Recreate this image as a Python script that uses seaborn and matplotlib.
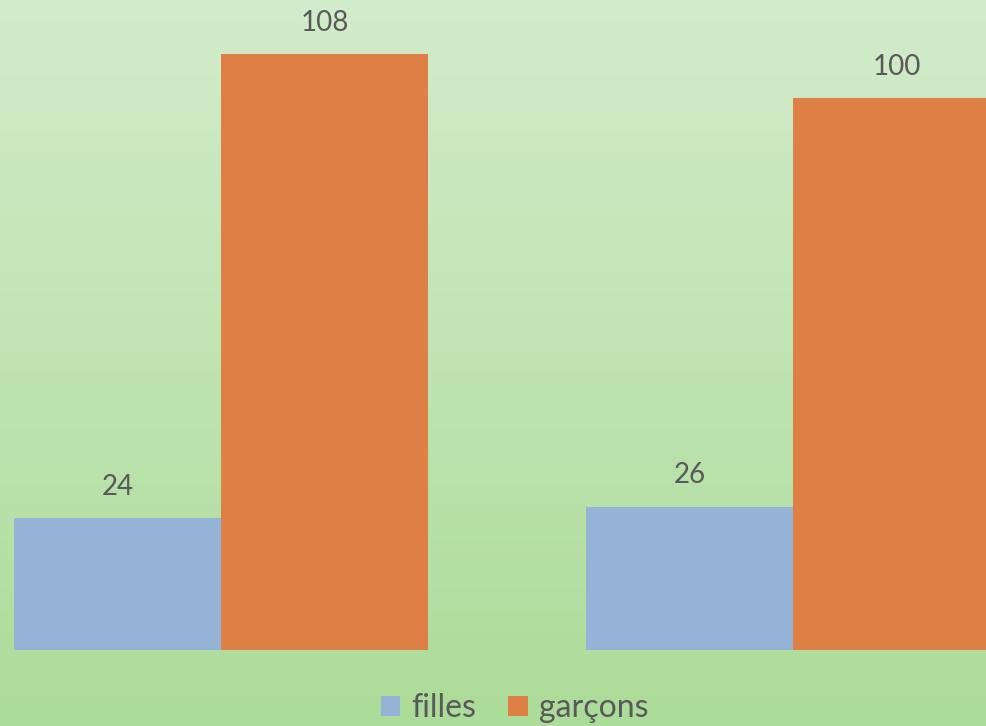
import numpy as np
import pandas as pd
import matplotlib.pyplot as plt
import seaborn as sns

# ------------------------------------------------
# data
# ------------------------------------------------
groupes = ["1", "2"]
filles = [24, 26]
garcons = [108, 100]
series = ["filles", "garçons"]
couleurs = ["#95B3D7", "#DE7F45"]

df = pd.DataFrame({
    "groupe": groupes * 2,
    "serie": [series[0]] * len(groupes) + [series[1]] * len(groupes),
    "valeur": filles + garcons,
})

sns.set_style("white")
plt.rcParams["font.family"] = ["Lato", "DejaVu Sans"]
txt_color = "#595959"

fig = plt.figure(figsize=(9.86, 7.26), dpi=100)

# green gradient background
bg = fig.add_axes([0, 0, 1, 1], zorder=0)
top = np.array([211, 236, 203]) / 255
bottom = np.array([172, 220, 153]) / 255
t = np.linspace(0, 1, 256)[:, None]
grad = top * (1 - t) + bottom * t
bg.imshow(grad[:, None, :], aspect="auto", extent=[0, 1, 0, 1])
bg.axis("off")

# main chart axes: bottom at y=650px, full width
H = 726
ax = fig.add_axes([0, (H - 650) / H, 1, 650 / H], zorder=1)
ax.patch.set_alpha(0)

sns.barplot(data=df, x="groupe", y="valeur", hue="serie",
            palette=couleurs, width=0.724, gap=0, saturation=1,
            edgecolor="none", ax=ax)

for c in ax.containers:
    ax.bar_label(c, padding=13, fontsize=20, color=txt_color)

ax.set_ylim(0, 117.8)
ax.set_xlim(-0.386, 1.337)
ax.set_xlabel("")
ax.set_ylabel("")
ax.set_xticks([])
ax.set_yticks([])
for s in ax.spines.values():
    s.set_visible(False)

ax.get_legend().remove()
handles, labels = ax.get_legend_handles_labels()
fig.legend(handles, labels, loc="center", bbox_to_anchor=(0.522, 1 - 708 / H),
           ncol=2, frameon=False, fontsize=23, labelcolor=txt_color,
           handlelength=0.6, handleheight=0.6, handletextpad=0.35,
           columnspacing=1.0)

plt.savefig("out.png", dpi=100)
